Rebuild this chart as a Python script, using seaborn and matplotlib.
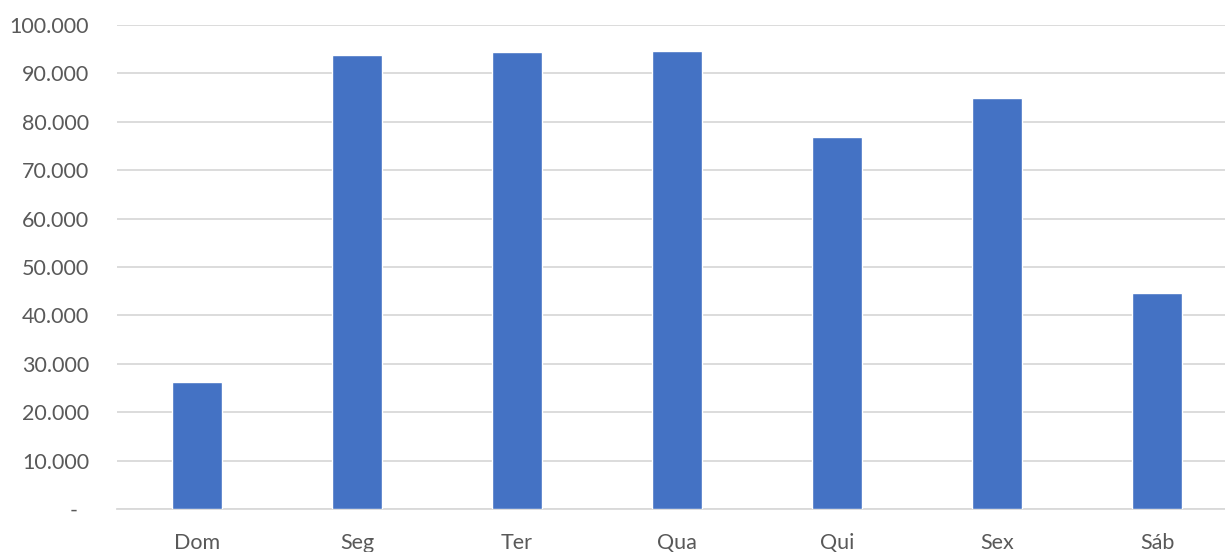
import matplotlib
matplotlib.use("Agg")
import matplotlib.pyplot as plt
import seaborn as sns
import pandas as pd
from matplotlib.ticker import FuncFormatter

# Data
dias = ["Dom", "Seg", "Ter", "Qua", "Qui", "Sex", "Sáb"]
valores = [26300, 93900, 94400, 94600, 76900, 84900, 44600]
y_ticks = list(range(0, 100001, 10000))

df = pd.DataFrame({"dia": dias, "valor": valores})

sns.set_style("white")
plt.rcParams["font.family"] = ["Lato", "DejaVu Sans"]

fig = plt.figure(figsize=(12.25, 5.52), dpi=100)
ax = fig.add_axes([0.0955, 0.078, 0.9143, 0.8767])

sns.barplot(data=df, x="dia", y="valor", color="#4472C4", width=0.31,
            saturation=1, ax=ax, zorder=3)

# Axes styling
ax.set_ylim(0, 100000)
ax.set_yticks(y_ticks)
ax.yaxis.set_major_formatter(FuncFormatter(
    lambda v, p: "-  " if v == 0 else f"{int(v):,}".replace(",", ".")))
ax.grid(axis="y", color="#D9D9D9", linewidth=1.3, zorder=0)
for s in ["top", "right", "left"]:
    ax.spines[s].set_visible(False)
ax.spines["bottom"].set_color("#D9D9D9")
ax.spines["bottom"].set_linewidth(1.3)
ax.tick_params(axis="both", length=0, labelsize=15.5, labelcolor="#595959")
ax.tick_params(axis="y", pad=20)
ax.tick_params(axis="x", pad=17)
ax.set_xlabel("")
ax.set_ylabel("")

fig.savefig("out.png", dpi=100)
